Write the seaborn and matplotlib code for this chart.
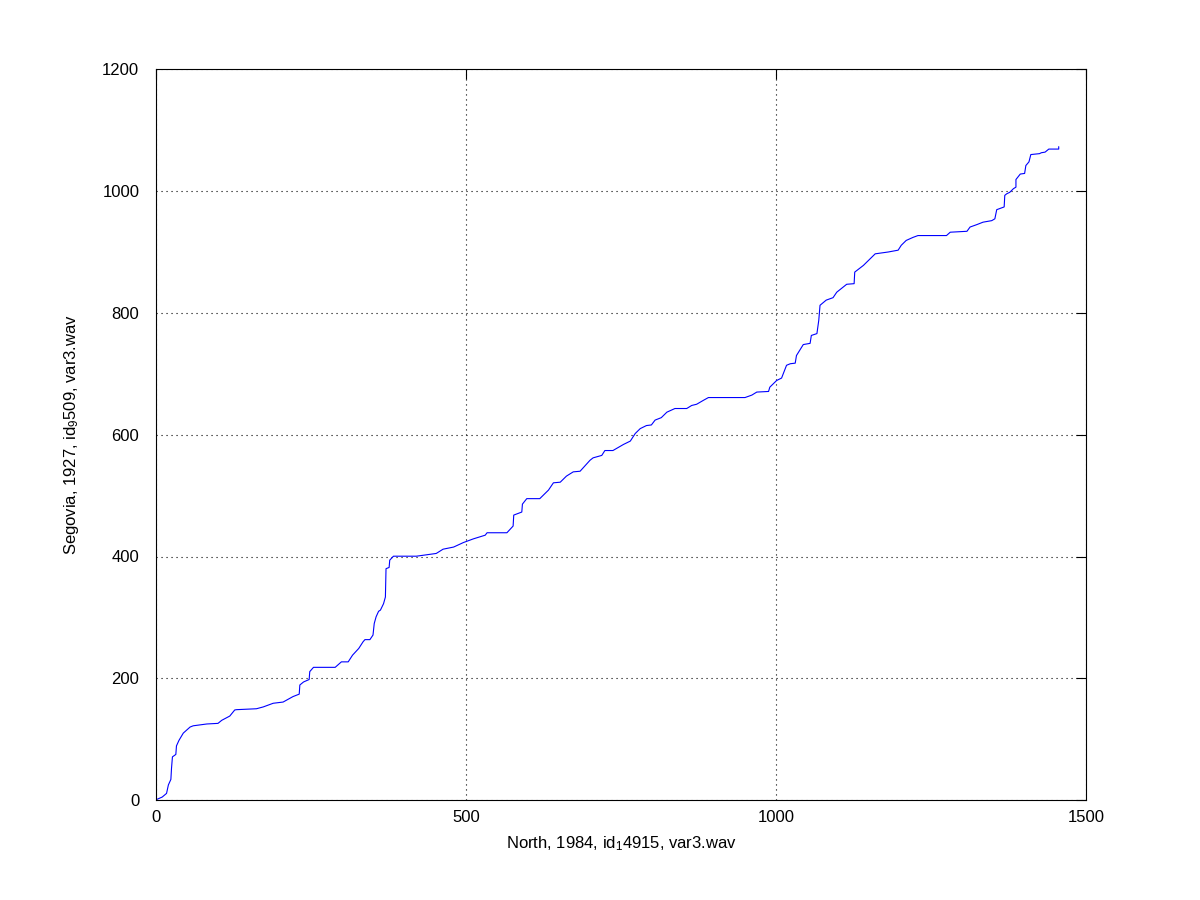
import matplotlib
matplotlib.use("Agg")
import matplotlib.pyplot as plt
import seaborn as sns
import pandas as pd

# DTW warping path waypoints
path_x = [1, 10, 17, 20, 24, 25, 26.5, 32, 33, 37, 44, 55, 60, 82, 100, 106, 119, 127, 130, 162,
          173, 189, 205, 221, 231, 232, 238, 247, 248, 254, 289, 299, 310, 317, 327, 334, 337, 345, 350, 352,
          355, 359, 362, 367, 370, 371, 376, 377, 383, 420, 452, 463, 480, 496, 512, 531, 534, 566, 576, 577,
          590, 591, 598, 619, 633, 641, 652, 662, 673, 684, 700, 705, 719, 724, 737, 754, 765, 773, 781, 791,
          799, 805, 815, 824, 837, 856, 864, 872, 883, 891, 950, 961, 969, 988, 990, 1001, 1009, 1017, 1023, 1031,
          1033, 1044, 1055, 1057, 1066, 1068, 1069, 1071, 1081, 1092, 1098, 1114, 1126, 1127, 1141, 1152, 1160, 1181, 1197, 1202,
          1210, 1221, 1229, 1275, 1281, 1308, 1313, 1324, 1334, 1348, 1353, 1356, 1368, 1369, 1372, 1377, 1383, 1387, 1387, 1394,
          1401, 1403, 1408, 1411, 1425, 1428, 1434, 1440, 1456, 1456]
path_y = [1, 5, 11, 25, 34, 52, 71, 75, 89, 98, 110, 120, 122, 125, 126, 131, 138, 148, 148.5, 150,
          153, 159, 161, 170, 174, 189, 194, 198, 211, 218, 218, 227, 227, 238, 249, 260, 263.5, 263.5, 271, 290,
          301, 310, 312, 322.5, 333.5, 380, 382, 394, 400.5, 400.5, 405, 412, 415.5, 423, 429, 435, 439, 439, 450, 468,
          473, 486, 495, 495, 509, 521, 522, 532, 539, 540, 558, 562, 566, 574, 574, 584, 589.5, 602, 610, 615,
          616, 624, 628, 637, 643, 643, 648, 650, 656.5, 661, 661, 665, 670, 671, 678, 689, 693, 714, 716.5, 717.5,
          730, 748, 750, 763, 766, 780, 788, 812.5, 821, 825, 834, 847, 848, 867, 878, 889, 897, 900, 903, 911,
          919, 924, 927, 927, 932.5, 934, 941, 945, 949, 951.5, 954.5, 969.5, 974, 993, 995.5, 998, 1004, 1006.5, 1019, 1028,
          1029, 1042, 1048, 1060, 1061.5, 1063, 1064, 1069, 1069, 1073]

x_ticks = [0, 500, 1000, 1500]
y_ticks = [0, 200, 400, 600, 800, 1000, 1200]
x_label = "North, 1984, id$_1$4915, var3.wav"
y_label = "Segovia, 1927, id$_9$509, var3.wav"

sns.set_style("white")
plt.rcParams['font.family'] = ['Liberation Sans', 'DejaVu Sans']
plt.rcParams['mathtext.default'] = 'regular'
plt.rcParams['text.color'] = 'black'
plt.rcParams['axes.labelcolor'] = 'black'

df = pd.DataFrame({"x": path_x, "y": path_y})

fig = plt.figure(figsize=(12, 9), dpi=100)
ax = fig.add_axes([0.13, 0.111, 0.775, 0.812])
sns.lineplot(data=df, x="x", y="y", sort=False, estimator=None, color=(0, 0, 1), linewidth=0.8, ax=ax)

ax.set_xlim(0, 1500)
ax.set_ylim(0, 1200)
ax.set_xticks(x_ticks)
ax.set_yticks(y_ticks)
ax.grid(True, color='black', linestyle=(0, (1, 3.5)), linewidth=0.8)
ax.tick_params(direction='in', length=7, width=0.8, top=True, right=True,
               labelsize=12, colors='black')
ax.tick_params(axis='y', pad=12)
ax.tick_params(axis='x', pad=7)
for s in ax.spines.values():
    s.set_visible(True)
    s.set_color('black')
    s.set_linewidth(0.8)
ax.set_xlabel(x_label, fontsize=12, labelpad=7, color='black')
ax.set_ylabel(y_label, fontsize=12, labelpad=15, color='black')

fig.savefig("out.png", dpi=100, facecolor='white')
